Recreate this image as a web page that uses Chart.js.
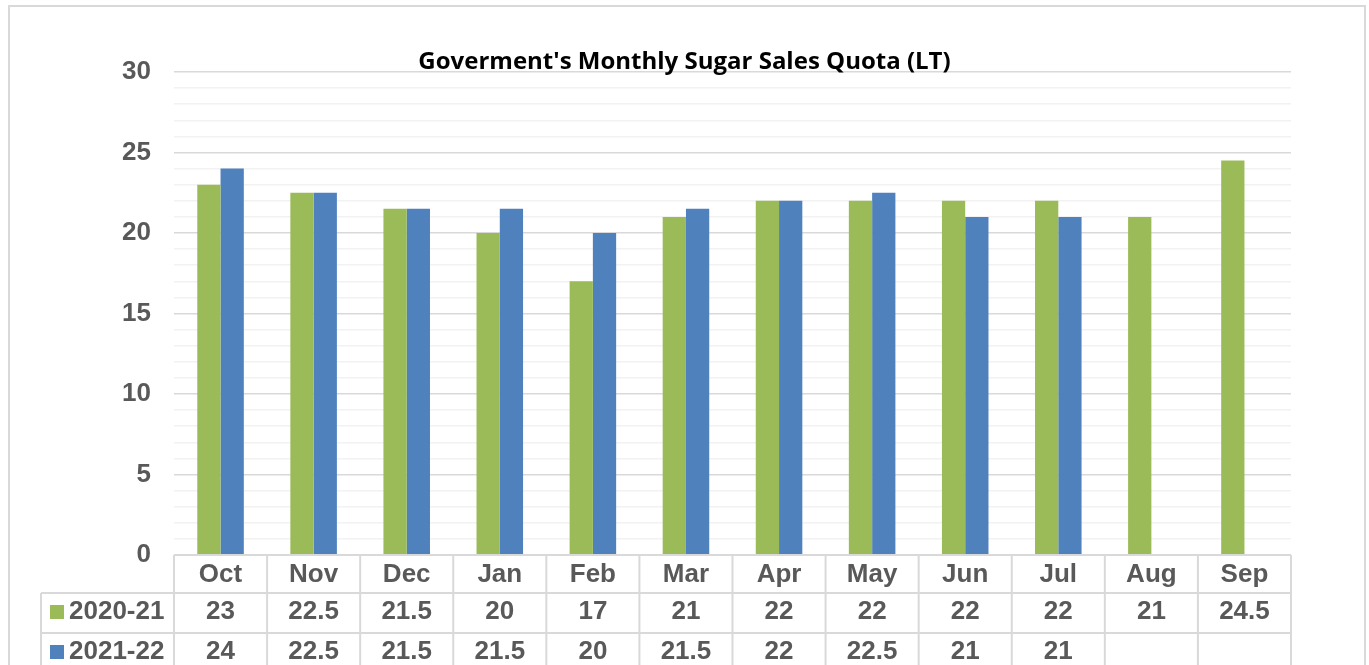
<!DOCTYPE html>
<html>
<head>
<meta charset="utf-8">
<script src="https://cdn.jsdelivr.net/npm/chart.js@4/dist/chart.umd.min.js"></script>
<style>
  html, body { margin: 0; padding: 0; background: #fff; }
  body { width: 1369px; height: 665px; overflow: hidden; position: relative; }
  #frame { position: absolute; left: 8px; top: 5px; width: 1358px; height: 720px; border: 2px solid #d9d9d9; box-sizing: border-box; }
  #c { position: absolute; left: 0; top: 0; }
</style>
</head>
<body>
<div id="frame"></div>
<canvas id="c" width="1369" height="665"></canvas>
<script>
const categories = ['Oct', 'Nov', 'Dec', 'Jan', 'Feb', 'Mar', 'Apr', 'May', 'Jun', 'Jul', 'Aug', 'Sep'];
const series2020 = [23, 22.5, 21.5, 20, 17, 21, 22, 22, 22, 22, 21, 24.5];
const series2021 = [24, 22.5, 21.5, 21.5, 20, 21.5, 22, 22.5, 21, 21, null, null];
const seriesNames = ['2020-21', '2021-22'];
const seriesColors = ['#9BBB59', '#4F81BD'];
const yTickValues = [0, 5, 10, 15, 20, 25, 30];
const titleText = "Goverment's Monthly Sugar Sales Quota (LT)";

const TXT = '#595959';
const LINE = '#d9d9d9';
const FONT = 'bold 26px "Liberation Sans", Arial, sans-serif';

const tablePlugin = {
  id: 'dataTable',
  afterDraw(chart) {
    const ctx = chart.ctx;
    const xs = chart.scales.x;
    const area = chart.chartArea;
    const step = xs.getPixelForValue(1) - xs.getPixelForValue(0);
    const left = area.left, right = area.right;
    const top = area.bottom;
    const headerH = 38, rowH = 40;
    const legendLeft = 41;
    const rowTops = [top, top + headerH, top + headerH + rowH, top + headerH + 2 * rowH];
    ctx.save();
    ctx.strokeStyle = LINE;
    ctx.lineWidth = 2;
    ctx.beginPath();
    ctx.moveTo(left, rowTops[0]); ctx.lineTo(right, rowTops[0]);
    for (let r = 1; r < rowTops.length; r++) {
      ctx.moveTo(legendLeft, rowTops[r]); ctx.lineTo(right, rowTops[r]);
    }
    for (let i = 0; i <= categories.length; i++) {
      const x = xs.getPixelForValue(0) - step / 2 + i * step;
      ctx.moveTo(x, rowTops[0]); ctx.lineTo(x, rowTops[3]);
    }
    ctx.moveTo(legendLeft, rowTops[1]); ctx.lineTo(legendLeft, rowTops[3]);
    ctx.stroke();

    ctx.font = FONT;
    ctx.fillStyle = TXT;
    ctx.textAlign = 'center';
    ctx.textBaseline = 'middle';
    categories.forEach((c, i) => {
      ctx.fillText(c, xs.getPixelForValue(i), rowTops[0] + headerH / 2 + 1);
    });
    chart.data.datasets.forEach((ds, d) => {
      const cy = rowTops[1 + d] + rowH / 2 - 1;
      ctx.textAlign = 'center';
      ctx.fillStyle = TXT;
      ds.data.forEach((v, i) => {
        if (v !== null && v !== undefined) ctx.fillText(String(v), xs.getPixelForValue(i), cy);
      });
      ctx.fillStyle = ds.backgroundColor;
      ctx.fillRect(50, cy - 7, 14, 14);
      ctx.fillStyle = TXT;
      ctx.textAlign = 'left';
      ctx.fillText(ds.label, 69, cy);
    });
    ctx.restore();
  }
};

new Chart(document.getElementById('c'), {
  type: 'bar',
  data: {
    labels: categories,
    datasets: [
      { label: seriesNames[0], data: series2020, backgroundColor: seriesColors[0], categoryPercentage: 0.5, barPercentage: 1.0 },
      { label: seriesNames[1], data: series2021, backgroundColor: seriesColors[1], categoryPercentage: 0.5, barPercentage: 1.0 }
    ]
  },
  options: {
    responsive: false,
    devicePixelRatio: 1,
    animation: false,
    layout: { padding: { left: 0, right: 0, top: 0, bottom: 72 } },
    plugins: {
      legend: { display: false },
      tooltip: { enabled: false },
      title: {
        display: true,
        text: titleText,
        color: '#000000',
        font: { family: '"Open Sans", sans-serif', size: 24, weight: 'bold', lineHeight: '20px' },
        padding: { top: 52, bottom: 0 }
      }
    },
    scales: {
      x: {
        grid: { display: false },
        border: { display: false },
        ticks: { display: false },
        afterFit(s) { s.height = 38; }
      },
      y: {
        min: 0, max: 30,
        afterFit(s) { s.width = 174; },
        afterBuildTicks(s) {
          const t = [];
          for (let v = 0; v <= 30; v++) t.push({ value: v });
          s.ticks = t;
        },
        grid: {
          drawTicks: false,
          lineWidth: 1.5,
          color: (c) => (c.tick && yTickValues.includes(c.tick.value)) ? '#d9d9d9' : '#f2f2f2'
        },
        border: { display: false },
        ticks: {
          autoSkip: false,
          padding: 23,
          color: TXT,
          font: { family: '"Liberation Sans", Arial, sans-serif', size: 26, weight: 'bold' },
          callback: (v) => yTickValues.includes(v) ? String(v) : ''
        }
      },
      y2: {
        position: 'right',
        display: true,
        grid: { display: false },
        border: { display: false },
        ticks: { display: false },
        afterFit(s) { s.width = 78; }
      }
    }
  },
  plugins: [tablePlugin]
});
</script>
</body>
</html>
